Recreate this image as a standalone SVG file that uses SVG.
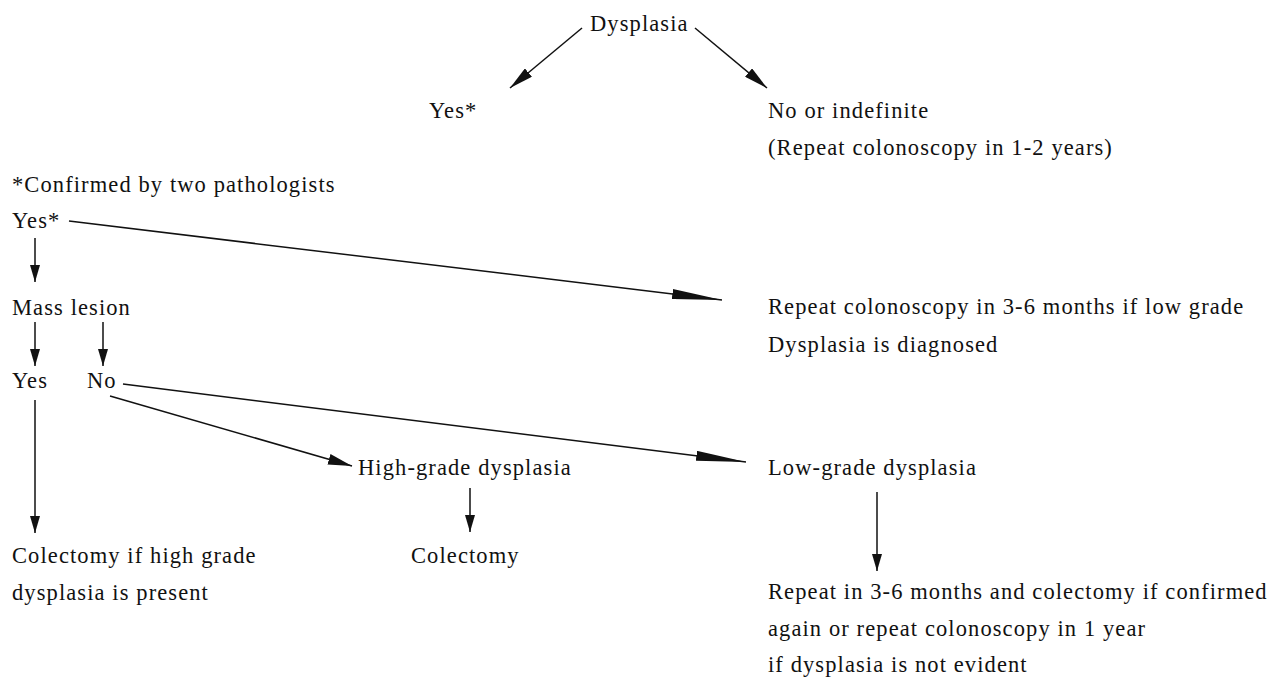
<svg xmlns="http://www.w3.org/2000/svg" width="1270" height="677" viewBox="0 0 1270 677">
<style>
text{font-family:"Liberation Serif","Times New Roman",serif;font-size:22.5px;letter-spacing:1.1px;fill:#111;}
.c line{stroke:#111;stroke-width:1.5;fill:none;}
</style>
<defs>
<marker id="aS" markerUnits="userSpaceOnUse" markerWidth="17" markerHeight="10" refX="17" refY="5" orient="auto"><path d="M0,0 L17,5 L0,10 z" fill="#111"/></marker>
<marker id="aM" markerUnits="userSpaceOnUse" markerWidth="24" markerHeight="11" refX="24" refY="5.5" orient="auto"><path d="M0,0 L24,5.5 L0,11 z" fill="#111"/></marker>
<marker id="aL" markerUnits="userSpaceOnUse" markerWidth="50" markerHeight="10" refX="50" refY="5" orient="auto"><path d="M0,0 L50,5 L0,10 z" fill="#111"/></marker>
</defs>
<rect width="1270" height="677" fill="#fff"/>
<g id="n-dysplasia"><text x="590" y="31">Dysplasia</text></g>
<g id="n-yes-top"><text x="429" y="118">Yes*</text></g>
<g id="n-no-indef"><text x="768" y="118">No or indefinite</text><text x="768" y="155">(Repeat colonoscopy in 1-2 years)</text></g>
<g id="n-note"><text x="12" y="192">*Confirmed by two pathologists</text></g>
<g id="n-yes2"><text x="12" y="228">Yes*</text></g>
<g id="n-mass"><text x="12" y="315">Mass lesion</text></g>
<g id="n-repeat36"><text x="768" y="314">Repeat colonoscopy in 3-6 months if low grade</text><text x="768" y="352">Dysplasia is diagnosed</text></g>
<g id="n-yes3"><text x="12" y="388">Yes</text></g>
<g id="n-no3"><text x="87" y="388">No</text></g>
<g id="n-high"><text x="358" y="475">High-grade dysplasia</text></g>
<g id="n-low"><text x="768" y="475">Low-grade dysplasia</text></g>
<g id="n-colectomy-if"><text x="12" y="563">Colectomy if high grade</text><text x="12" y="600">dysplasia is present</text></g>
<g id="n-colectomy"><text x="411" y="563">Colectomy</text></g>
<g id="n-repeat-low"><text x="768" y="599">Repeat in 3-6 months and colectomy if confirmed</text><text x="768" y="636">again or repeat colonoscopy in 1 year</text><text x="768" y="672">if dysplasia is not evident</text></g>
<g id="connectors" class="c">
<line x1="582" y1="28" x2="510" y2="88" marker-end="url(#aM)"/>
<line x1="695" y1="28" x2="767" y2="88" marker-end="url(#aM)"/>
<line x1="69" y1="221" x2="722" y2="300" marker-end="url(#aL)"/>
<line x1="35" y1="238" x2="35" y2="282" marker-end="url(#aS)"/>
<line x1="35" y1="322" x2="35" y2="366" marker-end="url(#aS)"/>
<line x1="103" y1="322" x2="103" y2="366" marker-end="url(#aS)"/>
<line x1="123" y1="384" x2="746" y2="462" marker-end="url(#aL)"/>
<line x1="110" y1="396" x2="352" y2="466" marker-end="url(#aM)"/>
<line x1="35" y1="400" x2="35" y2="533" marker-end="url(#aS)"/>
<line x1="470" y1="488" x2="470" y2="532" marker-end="url(#aS)"/>
<line x1="877" y1="492" x2="877" y2="571" marker-end="url(#aS)"/>
</g>
</svg>
